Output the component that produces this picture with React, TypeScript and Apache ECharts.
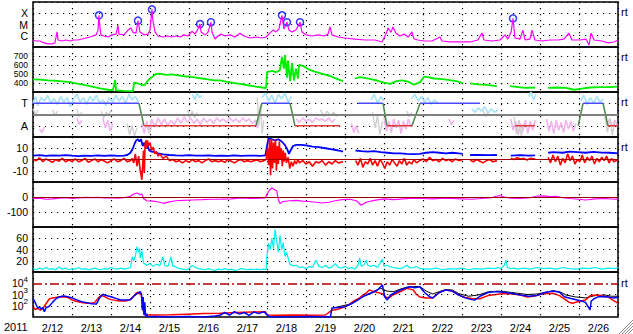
import React, { useEffect, useRef } from 'react';
import * as echarts from 'echarts';

// time axis: hours since 2011-02-12 00:00 UT
const dayLabels = ['2/12', '2/13', '2/14', '2/15', '2/16', '2/17', '2/18', '2/19', '2/20', '2/21', '2/22', '2/23', '2/24', '2/25', '2/26'];
const yearLabel = '2011';
const rightTag = 'rt';
const xrayClassLabels: Record<string, string> = { '-4': 'X', '-5': 'M', '-6': 'C' };
const imfLabels: Record<string, string> = { '3': 'T', '1': 'A' };
const speedTicks = [400, 500, 600, 700];
const bzTicks = [10, 0, -10];
const dstTicks = [0, -100];
const densityTicks = [20, 40, 60];
const fluxTickExps = [2, 3, 4];

// GOES X-ray flux (W/m^2)
const xrayFlux: any[] = [[0,4.2e-7],[1.8,3.4e-7],[4.3,3.4e-7],[6.8,2.3e-7],[9.2,1.9e-7],[11.7,1.9e-7],[13.5,2.3e-7],[14.8,2.2e-6],[15.4,4.2e-7],[17.8,3.4e-7],[20.3,4.2e-7],[22.8,3.4e-7],[25.2,4.2e-7],[27.7,4.2e-7],[30.2,5.1e-7],[32.6,6.3e-7],[35.1,7.7e-7],[36.9,9.5e-7],[38.8,1.2e-6],[40,3e-6],[40.6,6.6e-5],[41.2,5e-6],[41.8,1.2e-6],[43.7,9.5e-7],[46.2,7.7e-7],[48.6,1.2e-6],[51.1,1.4e-6],[52.3,9e-6],[52.9,1.4e-6],[56,1.2e-6],[58.5,3.2e-6],[60.3,4.9e-6],[61.5,2e-6],[63.4,1.7e-6],[64.6,2.2e-5],[65.8,2.2e-6],[68.3,1.2e-6],[70.8,1.4e-6],[72,3e-6],[73.2,2.2e-4],[73.8,2e-5],[75.1,2.2e-6],[76.9,9.5e-7],[80,7.7e-7],[83.1,9.5e-7],[85.5,7.7e-7],[88,9.5e-7],[90.5,7.7e-7],[92.9,1.2e-6],[95.4,9.5e-7],[97.8,2.5e-6],[99.7,1.4e-6],[101.5,4e-6],[102.8,1.1e-5],[103.4,2.2e-6],[105.8,1.2e-6],[107.7,2e-6],[109.5,1.6e-5],[110.2,2e-6],[112,5.1e-7],[113.8,9.5e-7],[115.7,1.4e-6],[118.2,9.5e-7],[121.2,1.2e-6],[124.3,7.7e-7],[127.4,1.7e-6],[129.8,9.5e-7],[133.5,6.3e-7],[137.2,7.7e-7],[140.9,6.3e-7],[143.4,7.7e-7],[145.8,1.7e-6],[147.7,3.2e-6],[149.5,2.2e-6],[151.4,4e-6],[153.2,6.6e-5],[154.4,4e-6],[156.3,1.6e-5],[157.5,3.2e-6],[159.4,2.2e-6],[161.8,3.2e-6],[164.3,1.6e-5],[165.5,2.2e-6],[168,1.2e-6],[171.7,9.5e-7],[175.4,1.2e-6],[179.1,9.5e-7],[181.5,1.4e-6],[182.8,6e-6],[184,1.2e-6],[187.7,7.7e-7],[192,6.3e-7],[198.2,5.1e-7],[204.3,4.2e-7],[210.5,4.2e-7],[214.8,2.8e-7],[217.2,1.4e-6],[218.5,4.9e-6],[220.3,2e-6],[221.5,6e-6],[223.4,1.7e-6],[225.8,9.5e-7],[228.3,1.4e-6],[230.8,7.7e-7],[233.2,2.2e-6],[234.5,5.1e-7],[236.9,4.2e-7],[240.6,3.4e-7],[245.5,3.4e-7],[250.5,7.7e-7],[251.7,3.4e-7],[256.6,2.8e-7],[262.8,2.8e-7],[268.9,2.8e-7],[273.8,4.2e-7],[276.3,1.75e-6],[277.5,4.2e-7],[282.5,3.4e-7],[287.4,4.2e-7],[290.5,1.2e-6],[292.3,5.1e-7],[294.2,2e-6],[295.4,3.5e-5],[296.6,6.3e-7],[299.7,5.1e-7],[301.5,3.2e-6],[302.8,4.2e-7],[305.8,5.1e-7],[307.1,3.2e-6],[308.9,4.2e-7],[313.2,3.4e-7],[318.1,4.2e-7],[323,4.2e-7],[326.7,5.1e-7],[329.8,1.75e-6],[331.6,4.2e-7],[336.6,4.2e-7],[340.3,5.1e-7],[342.2,1.5e-7],[343.4,1.75e-6],[345.2,4.2e-7],[350.2,3.4e-7],[353.8,2.3e-7],[357.5,2.8e-7],[360,4.2e-7]];
const flarePeaks: any[] = [[40.6,6.6e-5],[64.6,2.2e-5],[73.2,2.2e-4],[102.8,1.1e-5],[109.5,1.6e-5],[153.2,6.6e-5],[156.3,1.6e-5],[164.3,1.6e-5],[295.4,3.5e-5]];

// solar wind speed (km/s)
const windSpeed: any[] = [[0,440],[4.3,438],[9.2,430],[13.5,425],[17.8,418],[22.8,410],[26.5,395],[31.4,380],[36.3,360],[41.2,340],[46.2,325],[49.2,320],[50.5,435],[51.1,318],[56,312],[61.5,310],[62.2,405],[64.6,395],[67.1,375],[68.9,380],[70.8,430],[73.2,465],[75.7,500],[78.2,505],[81.8,490],[85.5,495],[89.2,485],[92.9,475],[96.6,470],[100.3,460],[104,450],[107.7,440],[111.4,430],[115.1,430],[118.8,415],[122.5,405],[127.4,390],[132.3,375],[137.2,360],[140.9,350],[143.4,342],[144,520],[147.1,535],[149.5,520],[151.9,540],[153.2,690],[154.4,560],[155.1,710],[156.3,460],[156.9,650],[158.2,420],[159.4,620],[160.6,430],[161.8,560],[163.1,450],[163.7,600],[166.2,590],[169.2,555],[172.9,530],[176.6,510],[180.3,490],[184,470],[187.7,440],[190.8,420],[191,'-'],[198.2,450],[201.2,465],[204.9,455],[208.6,440],[212.3,425],[216,405],[219.7,390],[223.4,420],[227.1,430],[230.8,415],[234.5,380],[238.2,410],[240.6,470],[243.1,465],[246.8,450],[250.5,445],[255.4,435],[260.3,420],[264.6,400],[265,'-'],[269,395],[273.8,385],[278.8,380],[285.5,365],[286,'-'],[293.5,365],[298.5,355],[303.4,345],[309,350],[309.5,'-'],[316.9,345],[323.1,350],[328,345],[332.9,325],[336.6,335],[342.8,350],[348.9,355],[355.1,355],[359.5,360]];

// IMF sector (T = toward, A = away) and phi-angle clouds
const phiCyan: any[] = [[0,3.0],[1.5,3.6],[3,2.8],[5,3.5],[7,3.2],[9,3.7],[11,3.0],[13,3.4],[15,2.9],[17,3.6],[19,3.1],[21,3.5],[23,2.7],[25,3.4],[27,3.8],[29,3.1],[31,3.5],[33,2.9],[35,3.6],[37,3.2],[39,3.7],[41,3.0],[43,3.3],[45,2.8],[47,3.5],[49,3.1],[51,3.7],[53,3.2],[55,3.6],[57,3.0],[59,3.8],[61,3.3],[63,3.6],[65,3.1],[65.5,'-'],[98,3.8],[99.5,3.3],[101,3.9],[102.5,3.5],[104,3.7],[104.5,'-'],[141,3.5],[143,3.9],[145,3.2],[147,3.7],[149,3.0],[151,3.8],[153,3.4],[155,3.9],[157,3.1],[159,3.6],[159.5,'-'],[208,3.3],[210,3.8],[212,3.0],[214,3.6],[216,3.2],[216.5,'-'],[233,3.4],[235,3.8],[237,3.2],[239,3.6],[241,3.1],[243,3.5],[245,2.9],[247,3.3],[249,3.0],[249.5,'-'],[270,2.5],[272,2.2],[274,2.6],[276,2.3],[278,2.7],[280,2.1],[282,2.5],[284,2.2],[286,2.4],[286.5,'-'],[305,3.6],[306.5,4.0],[308,3.3],[309.5,3.8],[310,'-'],[337,3.2],[339,3.7],[341,2.9],[343,3.5],[345,3.0],[347,3.6],[349,3.1],[351,3.4]];
const phiPink: any[] = [[4,0.7],[5.5,0.4],[7,0.9],[8,'-'],[27,1.7],[28.5,1.1],[30,1.5],[31,'-'],[43,1.7],[44.5,0.8],[46,1.5],[47.5,0.5],[49,1.2],[50,'-'],[67,1.2],[68.5,0.3],[70,1.4],[71.5,0.6],[73,1.6],[75,0.9],[77,1.7],[79,1.1],[81,1.6],[83,1.0],[85,1.5],[87,1.1],[89,1.7],[91,1.2],[93,1.8],[95,1.3],[97,1.7],[99,1.2],[101,1.6],[103,1.1],[105,1.7],[107,1.3],[109,1.6],[111,1.2],[113,1.7],[115,1.4],[117,1.6],[119,1.3],[121,1.7],[123,1.4],[125,1.6],[127,1.3],[129,1.7],[131,1.4],[133,1.6],[135,1.2],[137,1.5],[138,0.8],[139,1.4],[140,'-'],[162,1.6],[164,1.3],[166,1.7],[168,1.4],[170,1.6],[172,1.3],[174,1.7],[176,1.5],[178,1.6],[180,1.4],[182,1.7],[184,1.3],[186,1.6],[187,'-'],[196,1.2],[197.5,0.4],[199,1.0],[200.5,0.3],[201,'-'],[216,1.7],[217.5,0.5],[219,1.4],[220.5,0.4],[222,1.6],[223.5,0.8],[225,1.5],[226.5,0.3],[228,1.4],[229.5,0.7],[231,1.6],[232.5,0.9],[234,1.3],[235,'-'],[256,1.6],[257.5,1.1],[259,1.5],[260,'-'],[294,1.6],[295.5,0.6],[297,1.4],[298.5,0.2],[300,1.2],[301.5,0.5],[303,1.5],[304.5,0.3],[306,1.4],[307.5,0.6],[309,1.5],[310,'-'],[316,1.6],[317.5,0.5],[319,1.4],[320.5,0.3],[322,1.5],[323.5,0.6],[325,1.3],[326.5,0.4],[328,1.5],[329.5,0.7],[331,1.4],[332.5,0.5],[334,1.2],[335,'-'],[352,1.7],[353.5,1.2],[355,1.6],[356.5,0.9],[358,1.5],[359.5,1.1]];
const phiGray: any[] = [[0,2.5],[1.5,2.0],[3,2.4],[3.5,'-'],[12,2.4],[13.5,1.9],[15,2.3],[16,'-'],[27,2.5],[28.5,1.8],[30,2.2],[31,'-'],[42,2.3],[43.5,1.7],[45,2.2],[46.5,1.9],[48,2.4],[49,'-'],[58,1.2],[59.5,0.2],[61,1.0],[62.5,0.1],[64,0.8],[65,'-'],[70,1.1],[71.5,0.3],[73,0.9],[74,'-'],[95,2.4],[96.5,1.8],[98,2.3],[99.5,1.7],[101,2.2],[102,'-'],[138,3.5],[139,1.0],[140,2.9],[141,0.3],[142,1.5],[143,'-'],[177,2.4],[179,1.8],[181,2.3],[183,1.9],[185,2.2],[187,1.8],[188,'-'],[209,2.2],[210.5,0.8],[212,1.9],[213.5,0.2],[215,1.4],[216,'-'],[230,2.3],[231.5,1.8],[233,2.2],[234,'-'],[277,2.4],[278.5,1.8],[280,2.2],[281,'-'],[296,1.8],[297.5,0.3],[299,1.5],[300.5,0.1],[302,1.2],[303,'-'],[352,1.9],[353.5,0.4],[355,1.7],[356.5,0.2],[358,1.3]];
const sectorToward: any[] = [[0,3],[65.2,3],[65.3,'-'],[140.9,3],[158.2,3],[158.3,'-'],[200,3],[215.4,3],[215.5,'-'],[238.2,3],[275.1,3],[275.2,'-'],[338.5,3],[350.8,3]];
const sectorSwitch: any[] = [[65.2,3],[68.3,1],[68.4,'-'],[137.2,1],[140.9,3],[141,'-'],[158.2,3],[161.2,1],[161.3,'-'],[215.4,3],[217.8,1],[217.9,'-'],[233.2,1],[238.2,3],[238.3,'-'],[335.5,1],[338.5,3],[338.6,'-'],[350.8,3],[353.8,1]];
const sectorAway: any[] = [[68.3,1],[137.2,1],[137.3,'-'],[161.2,1],[188.9,1],[189,'-'],[217.8,1],[233.2,1],[233.3,'-'],[296.6,1],[308.9,1],[309,'-'],[353.8,1],[360,1]];

// IMF Bt and Bz (nT)
const imfBt: any[] = [[0,3.5],[4,3.8],[8,3.2],[12,3.6],[16,3.4],[20,3.9],[24,3.4],[28,3.0],[32,3.5],[36,3.2],[40,3.6],[44,3.3],[48,3.6],[52,3.3],[56,3.5],[58,4.0],[60,6],[61.5,10],[62.5,14],[63.5,17],[64.5,18],[65.5,16],[66.5,18],[67.5,12],[68.5,15],[69.5,10],[70.5,13],[71.5,8],[73,7],[75,6.5],[77,5.5],[80,4.5],[84,4],[88,3.6],[92,3.5],[96,3.8],[100,3.5],[104,3.4],[108,3.6],[112,3.3],[116,3.5],[120,3.3],[124,3.6],[128,3.2],[132,3.4],[136,3.5],[140,3.3],[143,3.6],[144,12],[145,19],[147,18],[149,17],[151,18],[153,16],[155,13],[156.5,9],[157.5,5],[158.5,8],[160,12],[162,13],[165,13],[168,12.5],[172,11.5],[176,11],[180,10],[184,9],[188,8],[190.8,7],[191,'-'],[198.5,8],[202,7.5],[206,7],[210,7.5],[214,6.5],[218,6],[222,5.5],[226,5.5],[230,5],[234,4.8],[238,5],[242,6],[246,6.5],[250,6],[254,5.5],[258,6],[262,5.5],[264.5,5],[264.6,'-'],[269,4],[274,4.2],[280,3.8],[285.5,4],[285.6,'-'],[294,3.5],[300,3.8],[305,3.4],[309,3.6],[309.1,'-'],[317,6],[320,6.5],[326,6],[330,7],[335,6.5],[340,6],[345,6.8],[350,6.2],[355,6],[360,5.5]];
const imfBz: any[] = [[0,0],[2,-1],[4,1.5],[6,-2],[8,0.5],[10,-1],[12,-2.5],[14,0],[16,-1.5],[18,1],[20,-2],[22,-0.5],[24,-1.8],[26,0.5],[28,-2],[30,-1],[32,1],[34,-2.5],[36,-1],[38,0.5],[40,-2],[42,0],[44,-1.5],[46,-3],[48,-1],[50,0.5],[52,-2],[54,-1],[56,1],[58,-2],[60,-1],[61,1],[62,-3],[63,5],[64,-6],[65,3],[66,-10],[67,-18],[67.5,-5],[68,8],[68.5,-12],[69,14],[69.5,17],[70,10],[70.5,17],[71,12],[72,15],[73,8],[74,11],[75,5],[76,7],[77,3],[78,5],[80,1],[82,3],[84,-1],[86,0],[88,-2],[90,-1],[92,-3],[94,-1],[96,-2.5],[98,0],[100,-2],[102,-1],[104,-3],[106,-1],[108,0.5],[110,-2],[112,-1],[114,-2],[116,-1],[118,-2.5],[120,0],[122,-1.5],[124,-3],[126,-1],[128,0],[130,-2],[132,-1],[134,-2],[136,-1],[138,-0.5],[140,-2],[142,-1],[143.5,0],[144.3,10],[145,-5],[145.6,18],[146.2,-14],[146.8,18],[147.4,-8],[148,15],[148.6,-3],[149.2,18],[149.8,-10],[150.4,12],[151,-4],[151.6,16],[152.2,0],[152.8,10],[153.4,-6],[154,8],[154.6,-2],[155.2,6],[156,-3],[157,2],[158,-8],[159,-2],[160,-6],[161,-1],[162,-4],[163,0],[164,-3],[166,-1],[168,-4],[170,-2],[172,-6],[174,-2],[176,-3],[178,-1],[180,-5],[182,-2],[184,-4],[186,-1],[188,-3],[190.8,-2],[191,'-'],[198.5,-1],[200,-5],[201.5,1],[203,-7],[204.5,-2],[206,-4],[207.5,1],[209,-5],[210.5,-1],[212,-6],[213.5,0],[215,-3],[216.5,-8],[218,-2],[219.5,-5],[221,0],[222.5,-3],[224,-6],[225.5,-1],[227,-4],[228.5,1],[230,-5],[231.5,-2],[233,-4],[234.5,0],[236,-3],[238,-1],[240,0.5],[242,-2],[244,2],[246,-1],[248,0],[250,-2],[252,1],[254,-1],[256,0],[258,-2],[260,0.5],[262,-1],[264.5,0],[264.6,'-'],[269,-0.5],[271,-2],[273,0],[275,-1.5],[277,-3],[279,-1],[281,0],[283,-2],[285.5,-1],[285.6,'-'],[294,1],[296,0],[298,1.5],[300,0.5],[302,1],[304,-0.5],[306,1],[309,0.5],[309.1,'-'],[317,2],[318.5,-3],[320,4],[321.5,-2],[323,3],[324.5,-5],[326,1],[327.5,-3],[329,5],[330.5,-1],[332,3],[333.5,-4],[335,0],[336.5,-2],[338,4],[339.5,-3],[341,2],[342.5,-1],[344,3],[345.5,-4],[347,1],[348.5,-2],[350,2],[351.5,-1],[353,3],[354.5,-3],[356,1],[357.5,-2],[360,0]];

// Dst (nT)
const dstIndex: any[] = [[0,-10],[4,-8],[8,-15],[12,-12],[16,-8],[20,-5],[24,-10],[28,-6],[32,-3],[36,-4],[40,-2],[44,-6],[48,-4],[52,-8],[56,-5],[60,5],[62,20],[64,27],[66,15],[67,20],[68,-10],[70,-25],[74,-28],[78,-35],[80,-42],[84,-32],[88,-25],[92,-22],[98,-20],[104,-18],[110,-15],[116,-14],[122,-12],[128,-6],[134,-10],[140,-8],[143,-6],[144,20],[145.5,45],[147,60],[148.5,50],[150,40],[151,-20],[152,-44],[154,-30],[158,-25],[162,-22],[166,-28],[170,-30],[174,-35],[178,-40],[182,-35],[186,-25],[190,-18],[195,-15],[199,-25],[202,-55],[205,-35],[210,-22],[216,-12],[222,-18],[228,-12],[234,-8],[240,-10],[246,-12],[252,-8],[258,-10],[264,-12],[270,-15],[276,-10],[282,-5],[287,10],[290,0],[294,-8],[300,-10],[306,-5],[310,5],[314,8],[318,3],[322,5],[326,-5],[330,-10],[336,-15],[340,-20],[346,-12],[352,-10],[358,-15],[360,-12]];

// solar wind density (p/cc)
const windDensity: any[] = [[0,6],[2,4],[4,7],[6,5],[8,8],[10,5],[12,6],[14,4],[16,9],[18,5],[20,7],[22,4],[24,6],[26,5],[28,8],[30,5],[32,6],[34,4],[36,5],[38,7],[40,5],[42,4],[44,6],[46,5],[48,8],[50,6],[52,5],[54,7],[56,5],[58,6],[60,8],[61,27],[62,20],[63,28],[64,45],[65,35],[65.5,42],[66,25],[67,38],[68,16],[70,12],[72,15],[74,10],[76,14],[78,11],[80,27],[81,12],[83,10],[85,27],[86,11],[88,9],[90,6],[92,5],[94,4],[96,6],[98,12],[100,8],[102,6],[104,5],[106,4],[108,6],[110,4],[112,3],[114,5],[116,4],[118,6],[120,4],[122,5],[124,3],[126,4],[128,6],[130,5],[132,4],[134,5],[136,4],[138,5],[140,4],[142,5],[143.5,4],[144,30],[145,51],[146,40],[147,60],[148,42],[149,76],[150,55],[151,35],[152,65],[153,40],[154,52],[155,28],[156,35],[157,25],[158,14],[160,11],[162,12],[164,8],[166,9],[168,6],[170,10],[172,8],[174,21],[176,10],[178,8],[180,12],[182,7],[184,9],[186,15],[188,8],[190,7],[192,10],[194,6],[196,8],[198,5],[200,12],[201,25],[202,10],[204,14],[205,21],[206,12],[208,10],[210,12],[212,8],[215,23],[216,10],[218,12],[220,9],[222,8],[224,7],[226,6],[228,8],[230,12],[232,7],[234,8],[236,10],[238,6],[244,5],[248,7],[252,4],[256,6],[260,5],[264,7],[268,4],[272,6],[276,5],[280,7],[284,6],[286,8],[288,6],[290,12],[291,21],[292,8],[294,6],[296,7],[298,5],[302,7],[306,5],[310,8],[314,6],[318,7],[322,5],[326,8],[330,6],[334,5],[338,7],[342,6],[346,8],[350,5],[354,7],[358,6],[360,8]];

// particle flux (log scale)
const fluxRed: any[] = [[0,80],[1.5,45],[3,60],[4.5,40],[6,55],[8,150],[10,400],[12,500],[14,550],[17,620],[20,600],[22,500],[24,330],[27,240],[30,190],[33,170],[36,165],[38,200],[40,450],[42,850],[44,650],[46,450],[48,350],[51,300],[54,270],[57,260],[60,380],[62,750],[63.5,1300],[64.5,1600],[65.5,1100],[66.5,1300],[67.2,200],[68,30],[69,15],[75,15],[85,16],[95,18],[105,20],[115,22],[125,25],[135,28],[143,30],[144,15],[150,14],[160,15],[170,14],[180,15],[184,40],[188,50],[192,80],[195,150],[198,300],[201,500],[203,900],[205,1300],[207,2500],[209,2000],[212,1500],[215,1200],[217,600],[219,500],[222,1000],[225,1500],[228,2500],[230,3500],[232,3000],[234,2500],[236,1000],[238,600],[242,500],[246,500],[250,1500],[254,2500],[258,2000],[262,900],[266,550],[270,450],[275,420],[280,800],[285,1000],[290,1200],[295,1100],[300,900],[304,600],[308,700],[312,1000],[316,1200],[320,1300],[324,800],[327,400],[330,200],[332,165],[336,250],[340,330],[343,800],[347,900],[351,700],[354,600],[357,300],[360,170]];
const fluxBlue: any[] = [[0,460],[1,250],[2,120],[3,60],[4,80],[5,50],[6,70],[7,30],[8,65],[10,90],[12,200],[14,400],[16,600],[18.5,735],[20,700],[22,600],[24,500],[27,330],[30,230],[33,190],[36,150],[39,140],[41,500],[43,1040],[45,800],[48,640],[51,450],[54,330],[57,330],[60,350],[62,700],[64,1200],[66,1800],[66.8,900],[67.3,40],[67.8,600],[68.3,15],[68.8,200],[69.3,11],[70,20],[70.5,10],[75,11],[85,10],[95,11],[105,10],[112,12],[115,14],[118,25],[121,15],[124,30],[127,18],[130,25],[133,14],[136,28],[139,20],[142,30],[145,12],[146,10],[160,10],[170,11],[183,10],[184,63],[188,70],[192,83],[196,150],[200,330],[203,640],[206,1000],[209,1500],[212,2500],[215,7000],[216.5,600],[218,330],[220,900],[223,1500],[226,2500],[229,3500],[232,4900],[235,4000],[238,4900],[241,1500],[244,640],[246,500],[250,1500],[254,2500],[258,2000],[262,900],[266,500],[270,350],[272,325],[275,700],[280,1500],[285,1800],[290,1600],[295,1200],[300,900],[305,700],[310,800],[315,1500],[320,2000],[324,1600],[327,640],[331,450],[335,330],[338,250],[340,200],[342.8,42],[343.5,250],[345,400],[348,640],[351,650],[354,600],[357,500],[360,550]];
const fluxBlack: any[] = [[186,70],[195,140],[200,350],[205,900],[210,2000],[214,3500],[218,2000],[222,1800],[226,3000],[230,4500],[234,5000],[238,5200],[242,2000],[246,1100],[250,1800],[254,2800],[258,2500],[262,1200],[268,700],[274,900],[280,1700],[286,2000],[292,1700],[298,1300],[304,1000],[310,1100],[316,1600],[320,2100],[324,1800],[328,900],[334,600],[340,500],[346,800],[352,900],[356,700],[360,700]];

const FONT = '"Liberation Sans", Arial, Helvetica, sans-serif';
const dotted: any = { type: [1.2, 4.8], color: '#000', width: 1.2 };

function lineSeries(panel: number, data: any[], color: string, width: number, extra: any = {}) {
  return {
    type: 'line', xAxisIndex: panel, yAxisIndex: panel, data, showSymbol: false, symbol: 'none',
    connectNulls: false, silent: true, lineStyle: { color, width }, itemStyle: { color }, ...extra,
  };
}
function markLines(items: any[]) {
  return { silent: true, symbol: 'none', label: { show: false }, animation: false, data: items };
}
const labelStyle = { fontSize: 10.5, color: '#000', fontFamily: FONT, margin: 5 };

function buildOption(): any {
  const grids = [0, 1, 2, 3, 4, 5, 6].map((i) => ({
    left: 33, right: 15, top: 2 + 45 * i, height: 45, show: true,
    borderColor: '#000', borderWidth: 1.5, backgroundColor: 'rgba(0,0,0,0)',
  }));
  const xAxes: any[] = [0, 1, 2, 3, 4, 5, 6].map((i) => ({
    type: 'value', gridIndex: i, min: 0, max: 360, interval: 24, position: i === 6 ? 'top' : 'bottom',
    axisLabel: { show: false }, axisTick: { show: false }, axisLine: { show: false },
    splitLine: { show: true, lineStyle: dotted },
  }));
  xAxes.push({
    type: 'category', gridIndex: 6, data: dayLabels, boundaryGap: true, position: 'bottom',
    axisLine: { show: false }, axisTick: { show: false }, splitLine: { show: false },
    axisLabel: { interval: 0, fontSize: 11, color: '#000', fontFamily: FONT, margin: 5 },
  });
  const baseY = (i: number) => ({
    gridIndex: i, axisLine: { show: false }, axisTick: { show: false },
    splitLine: { show: true, lineStyle: dotted },
  });
  const yAxes: any[] = [
    { ...baseY(0), type: 'log', logBase: 10, min: 1e-7, max: 1e-3,
      axisLabel: { ...labelStyle, formatter: (v: number) => xrayClassLabels[String(Math.round(Math.log10(v)))] || '' } },
    { ...baseY(1), type: 'value', min: 300, max: 800, interval: 100,
      axisLabel: { ...labelStyle, fontSize: 8.5, lineHeight: 8, formatter: (v: number) => (speedTicks.includes(v) ? String(v) : '') } },
    { ...baseY(2), type: 'value', min: 0, max: 4, interval: 1,
      axisLabel: { ...labelStyle, fontSize: 11, formatter: (v: number) => imfLabels[String(v)] || '' } },
    { ...baseY(3), type: 'value', min: -20, max: 20, interval: 10,
      axisLabel: { ...labelStyle, formatter: (v: number) => (bzTicks.includes(v) ? String(v) : '') } },
    { ...baseY(4), type: 'value', min: -200, max: 100, interval: 100,
      axisLabel: { ...labelStyle, formatter: (v: number) => (dstTicks.includes(v) ? String(v) : '') } },
    { ...baseY(5), type: 'value', min: 0, max: 80, interval: 20,
      axisLabel: { ...labelStyle, formatter: (v: number) => (densityTicks.includes(v) ? String(v) : '') } },
    { ...baseY(6), type: 'log', logBase: 10, min: 10, max: 1e5, splitLine: { show: false },
      axisLabel: { ...labelStyle,
        formatter: (v: number) => { const e = Math.round(Math.log10(v)); return fluxTickExps.includes(e) ? `10{sup|${e}}` : ''; },
        rich: { sup: { fontSize: 8, fontFamily: FONT, color: '#000', padding: [0, 0, 8, 0] } } } },
  ];
  const series: any[] = [
    lineSeries(0, xrayFlux, '#ff00ff', 1.2),
    { type: 'scatter', xAxisIndex: 0, yAxisIndex: 0, data: flarePeaks, symbol: 'circle', symbolSize: 7, silent: true,
      itemStyle: { color: 'rgba(0,0,0,0)', borderColor: '#0000ff', borderWidth: 1.5 } },
    lineSeries(1, windSpeed, '#00ee00', 1.8),
    lineSeries(2, phiCyan, '#a6e2f8', 1.6),
    lineSeries(2, phiPink, '#f2b4ee', 1.6),
    lineSeries(2, phiGray, '#cfcfcf', 1.4, {
      markLine: markLines([{ yAxis: 2, lineStyle: { color: '#808080', width: 2, type: 'solid' } }]) }),
    lineSeries(2, sectorToward, '#4a4aff', 1.5),
    lineSeries(2, sectorSwitch, '#4a8a4a', 1.5),
    lineSeries(2, sectorAway, '#e03a3a', 1.5),
    lineSeries(3, imfBt, '#0000ff', 1.8, {
      markLine: markLines([{ yAxis: 0, lineStyle: { color: '#a00000', width: 1.2, type: 'solid' } }]) }),
    lineSeries(3, imfBz, '#ff0000', 1.6),
    lineSeries(4, dstIndex, '#ff00ff', 1.2, {
      markLine: markLines([{ yAxis: 0, lineStyle: { color: '#a00000', width: 1.2, type: 'solid' } }]) }),
    lineSeries(5, windDensity, '#00eeee', 1.2),
    lineSeries(6, fluxBlack, '#000000', 1, {
      markLine: markLines([
        { yAxis: 100, lineStyle: dotted },
        { yAxis: 1000, lineStyle: dotted },
        { yAxis: 10000, lineStyle: { color: '#b00000', width: 1.5, type: [9, 3, 2, 3] } },
      ]) }),
    lineSeries(6, fluxRed, '#ff0000', 1.5),
    lineSeries(6, fluxBlue, '#0000ff', 1.5),
  ];
  const tagYs = [12, 57, 102, 147, 283];
  const graphic: any[] = [
    { type: 'text', x: 4, y: 321, silent: true, style: { text: yearLabel, fontSize: 11, fontFamily: FONT, fill: '#000' } },
    ...tagYs.map((y) => ({ type: 'text', x: 621, y: y - 6, silent: true, style: { text: rightTag, fontSize: 11, fontFamily: FONT, fill: '#000' } })),
    ...[0, 1, 2, 3].map((k) => ({ type: 'line', silent: true, shape: { x1: 619 + 3 * k, y1: 334, x2: 633, y2: 320 + 3 * k }, style: { stroke: '#8a8a8a', lineWidth: 1 } })),
  ];
  return { animation: false, backgroundColor: '#fff', grid: grids, xAxis: xAxes, yAxis: yAxes, series, graphic };
}

export default function App() {
  const ref = useRef<HTMLDivElement>(null);
  useEffect(() => {
    const chart = echarts.init(ref.current as HTMLDivElement, undefined, { renderer: 'svg' });
    chart.setOption(buildOption());
    return () => chart.dispose();
  }, []);
  return <div ref={ref} style={{ position: 'absolute', left: 0, top: 0, width: 633, height: 334, background: '#fff' }} />;
}
